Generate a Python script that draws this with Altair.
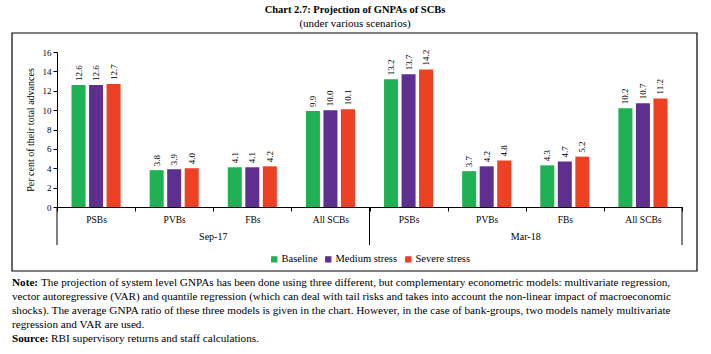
import altair as alt
import pandas as pd

# ---------------- data ----------------
periods = ["Sep-17", "Mar-18"]
categories = ["PSBs", "PVBs", "FBs", "All SCBs"]
series = ["Baseline", "Medium stress", "Severe stress"]
series_colors = ["#1fb153", "#5f2f90", "#ee4124"]

baseline_vals = [12.6, 3.8, 4.1, 9.9, 13.2, 3.7, 4.3, 10.2]
medium_vals = [12.6, 3.9, 4.1, 10.0, 13.7, 4.2, 4.7, 10.7]
severe_vals = [12.7, 4.0, 4.2, 10.1, 14.2, 4.8, 5.2, 11.2]

y_ticks = [0, 2, 4, 6, 8, 10, 12, 14, 16]
y_title = "Per cent of their total advances"

title_text = "Chart 2.7: Projection of GNPAs of SCBs"
subtitle_text = "(under various scenarios)"
note_label = "Note:"
note_lines = [
    "The projection of system level GNPAs has been done using three different, but complementary econometric models: multivariate regression,",
    "vector autoregressive (VAR) and quantile regression (which can deal with tail risks and takes into account the non-linear impact of macroeconomic",
    "shocks). The average GNPA ratio of these three models is given in the chart. However, in the case of bank-groups, two models namely multivariate",
    "regression and VAR are used.",
]
source_label = "Source:"
source_text = "RBI supervisory returns and staff calculations."

FONT = "Liberation Serif"

# ---------------- tables ----------------
keys = [f"{p}|{c}" for p in periods for c in categories]
rows = []
for s, vals in zip(series, [baseline_vals, medium_vals, severe_vals]):
    for k, v in zip(keys, vals):
        rows.append({"key": k, "series": s, "value": v})
df = pd.DataFrame(rows)

period_df = pd.DataFrame({"key": [keys[1], keys[5]], "label": periods})
start_df = pd.DataFrame({"key": [keys[0], keys[4]]})
end_df = pd.DataFrame({"key": [keys[-1]]})
one = pd.DataFrame({"d": [0]})

W, H = 625, 155
xscale = alt.Scale(domain=keys, paddingInner=0, paddingOuter=0)
oscale = alt.Scale(domain=series, paddingInner=0.2, paddingOuter=0.83)
yscale = alt.Scale(domain=[0, 16], nice=False)

x_axis = alt.Axis(
    title=None,
    labelExpr="split(datum.label, '|')[1]",
    tickBand="extent",
    tickSize=4,
    labelAngle=0,
    labelPadding=3,
    labelFont=FONT,
    labelFontSize=9.5,
    labelColor="black",
    domainColor="black",
    tickColor="black",
)
y_axis = alt.Axis(
    values=y_ticks,
    labelOverlap=False,
    title=y_title,
    titleFont=FONT,
    titleFontSize=10,
    titleFontWeight="normal",
    titleColor="black",
    titlePadding=7,
    labelFont=FONT,
    labelFontSize=9,
    labelColor="black",
    tickSize=4,
    labelPadding=2,
    domainColor="black",
    tickColor="black",
    grid=False,
)

bars = alt.Chart(df).mark_bar().encode(
    x=alt.X("key:N", scale=xscale, axis=x_axis),
    xOffset=alt.XOffset("series:N", scale=oscale),
    y=alt.Y("value:Q", scale=yscale, axis=y_axis),
    color=alt.Color(
        "series:N",
        scale=alt.Scale(domain=series, range=series_colors),
        legend=alt.Legend(
            orient="none",
            legendX=212,
            legendY=202,
            direction="horizontal",
            title=None,
            symbolType="square",
            symbolSize=40,
            symbolStrokeWidth=0,
            labelFont=FONT,
            labelFontSize=10.5,
            labelColor="black",
            labelOffset=2,
            columnPadding=5,
            padding=0,
        ),
    ),
)

values_txt = alt.Chart(df).mark_text(
    angle=270, align="left", baseline="middle", dx=4, font=FONT, fontSize=9, color="black"
).encode(
    x=alt.X("key:N", scale=xscale, axis=x_axis),
    xOffset=alt.XOffset("series:N", scale=oscale),
    y=alt.Y("value:Q", scale=yscale, axis=y_axis),
    text=alt.Text("value:Q", format=".1f"),
)

period_txt = alt.Chart(period_df).mark_text(
    baseline="middle", font=FONT, fontSize=10, color="black"
).encode(
    x=alt.X("key:N", scale=xscale, bandPosition=1, axis=x_axis),
    y=alt.value(185),
    text="label:N",
)

start_rules = alt.Chart(start_df).mark_rule(color="black", strokeWidth=1).encode(
    x=alt.X("key:N", scale=xscale, bandPosition=0, axis=x_axis),
    y=alt.value(H),
    y2=alt.value(193),
)
end_rules = alt.Chart(end_df).mark_rule(color="black", strokeWidth=1).encode(
    x=alt.X("key:N", scale=xscale, bandPosition=1, axis=x_axis),
    y=alt.value(H),
    y2=alt.value(193),
)

frame = alt.Chart(one).mark_rect(fill=None, stroke="black", strokeWidth=1.2).encode(
    x=alt.value(-45), x2=alt.value(640), y=alt.value(-19), y2=alt.value(219)
)


def text_layer(txt, x, y, size, weight="normal", align="left", baseline="middle"):
    return alt.Chart(one).mark_text(
        text=txt, align=align, baseline=baseline, font=FONT, fontSize=size,
        fontWeight=weight, color="black",
    ).encode(x=alt.value(x), y=alt.value(y))


title_l = text_layer(title_text, 298, -39, 10.5, "bold", "center", "alphabetic")
sub_l = text_layer(subtitle_text, 298, -25, 11, "normal", "center", "alphabetic")

NS = 11.2
note_layers = [text_layer(note_label, -45, 231, NS, "bold")]
note_layers.append(text_layer(note_lines[0], -16, 231, NS))
for i, line in enumerate(note_lines[1:]):
    note_layers.append(text_layer(line, -45, 245 + 14 * i, NS))
note_layers.append(text_layer(source_label, -45, 287, NS, "bold"))
note_layers.append(text_layer(source_text, -6, 287, NS))

chart = alt.layer(
    frame, bars, values_txt, period_txt, start_rules, end_rules, title_l, sub_l, *note_layers
).properties(
    width=W,
    height=H,
    autosize=alt.AutoSizeParams(type="none"),
    padding={"left": 57, "top": 52, "right": 29, "bottom": 147},
).configure_view(stroke=None)

chart.save("out.html", embed_options={"renderer": "svg", "actions": False})
